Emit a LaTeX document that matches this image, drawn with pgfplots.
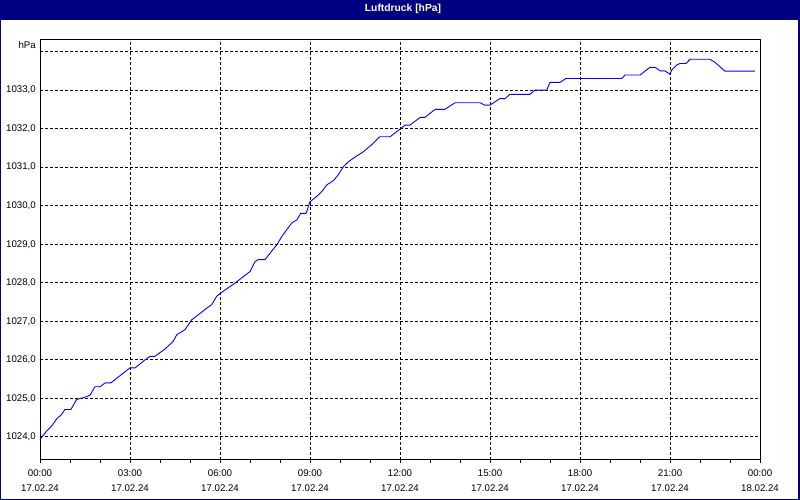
\documentclass[border=0pt]{standalone}
\usepackage{fontspec}
\setmainfont{Liberation Sans}
\usepackage{pgfplots}
\pgfplotsset{compat=1.18}
\definecolor{titlebar}{RGB}{0,0,128}
\definecolor{curve}{RGB}{0,0,255}

\begin{document}
\begin{tikzpicture}[x=1bp,y=1bp]
\useasboundingbox (0,0) rectangle (800,500);
% window frame and title bar
\fill[titlebar] (0,0) rectangle (800,500);
\fill[white] (1,1) rectangle (798,480);
\node[white,font=\bfseries\fontsize{10.3bp}{12bp}\selectfont] at (403,491) {Luftdruck [hPa]};
\begin{axis}[
    at={(40bp,40bp)}, anchor=south west,
    width=720bp, height=420bp, scale only axis,
    xmin=0, xmax=24, ymin=1023.4, ymax=1034.3,
    font=\fontsize{9.7bp}{15.5bp}\selectfont,
    xtick={0,3,...,24},
    minor xtick={1,2,4,5,7,8,10,11,13,14,16,17,19,20,22,23},
    xticklabels={{00:00\\17.02.24},{03:00\\17.02.24},{06:00\\17.02.24},
        {09:00\\17.02.24},{12:00\\17.02.24},{15:00\\17.02.24},
        {18:00\\17.02.24},{21:00\\17.02.24},{00:00\\18.02.24}},
    xticklabel style={align=center, inner sep=0pt, yshift=-6.5bp},
    ytick={1024,...,1034},
    yticklabels={{1024,0},{1025,0},{1026,0},{1027,0},{1028,0},
        {1029,0},{1030,0},{1031,0},{1032,0},{1033,0},{}},
    yticklabel style={inner sep=0pt, xshift=-1bp},
    tick align=outside, xtick pos=bottom, ytick pos=left,
    major tick length=3bp, minor tick length=3bp,
    x tick style={black, line width=1bp},
    y tick style={draw=none},
    xmajorgrids, ymajorgrids,
    major grid style={black, line width=1bp, dash pattern=on 3bp off 2bp},
    axis line style={black, line width=1bp},
    clip=false,
]
\addplot[curve, line width=0.9bp] coordinates {
(0,1023.93) (0.22,1024.15) (0.39,1024.28) (0.56,1024.47) (0.72,1024.58)
(0.83,1024.71) (1.03,1024.71) (1.22,1024.97) (1.5,1025.03) (1.67,1025.08)
(1.83,1025.30) (2.0,1025.30) (2.17,1025.40) (2.36,1025.40) (2.67,1025.59)
(3.0,1025.79) (3.17,1025.79) (3.5,1026.0) (3.67,1026.09) (3.83,1026.09)
(4.17,1026.28) (4.44,1026.48) (4.56,1026.65) (4.83,1026.78) (5.06,1027.04)
(5.28,1027.17) (5.61,1027.37) (5.72,1027.43) (5.89,1027.65) (6.0,1027.72)
(6.33,1027.9) (6.5,1027.99) (6.78,1028.16) (7.0,1028.29) (7.17,1028.55)
(7.28,1028.6) (7.5,1028.6) (7.67,1028.77) (7.89,1028.98) (8.06,1029.2)
(8.22,1029.37) (8.39,1029.55) (8.56,1029.63) (8.69,1029.8) (8.87,1029.8)
(9.0,1030.1) (9.28,1030.28) (9.44,1030.41) (9.56,1030.54) (9.78,1030.65)
(9.94,1030.8) (10.11,1031.01) (10.28,1031.14) (10.44,1031.23) (10.78,1031.4)
(11.11,1031.62) (11.33,1031.79) (11.67,1031.79) (11.89,1031.92) (12.17,1032.09)
(12.33,1032.09) (12.67,1032.29) (12.83,1032.29) (13.17,1032.5) (13.5,1032.5)
(13.83,1032.67) (14.67,1032.67) (14.83,1032.61) (15.0,1032.61) (15.33,1032.78)
(15.5,1032.78) (15.67,1032.89) (16.33,1032.89) (16.5,1033.0) (16.89,1033.0)
(17.0,1033.2) (17.33,1033.2) (17.53,1033.3) (19.39,1033.3) (19.5,1033.39)
(20.0,1033.39) (20.33,1033.59) (20.5,1033.59) (20.67,1033.5) (20.83,1033.5)
(21.0,1033.41) (21.06,1033.52) (21.22,1033.65) (21.33,1033.69) (21.53,1033.69)
(21.67,1033.8) (22.33,1033.8) (22.5,1033.72) (22.83,1033.49) (23.83,1033.49)
};
\node[anchor=east, inner sep=0pt] at ([xshift=-4bp,yshift=-5bp]rel axis cs:0,1) {hPa};
\end{axis}
\end{tikzpicture}
\end{document}
